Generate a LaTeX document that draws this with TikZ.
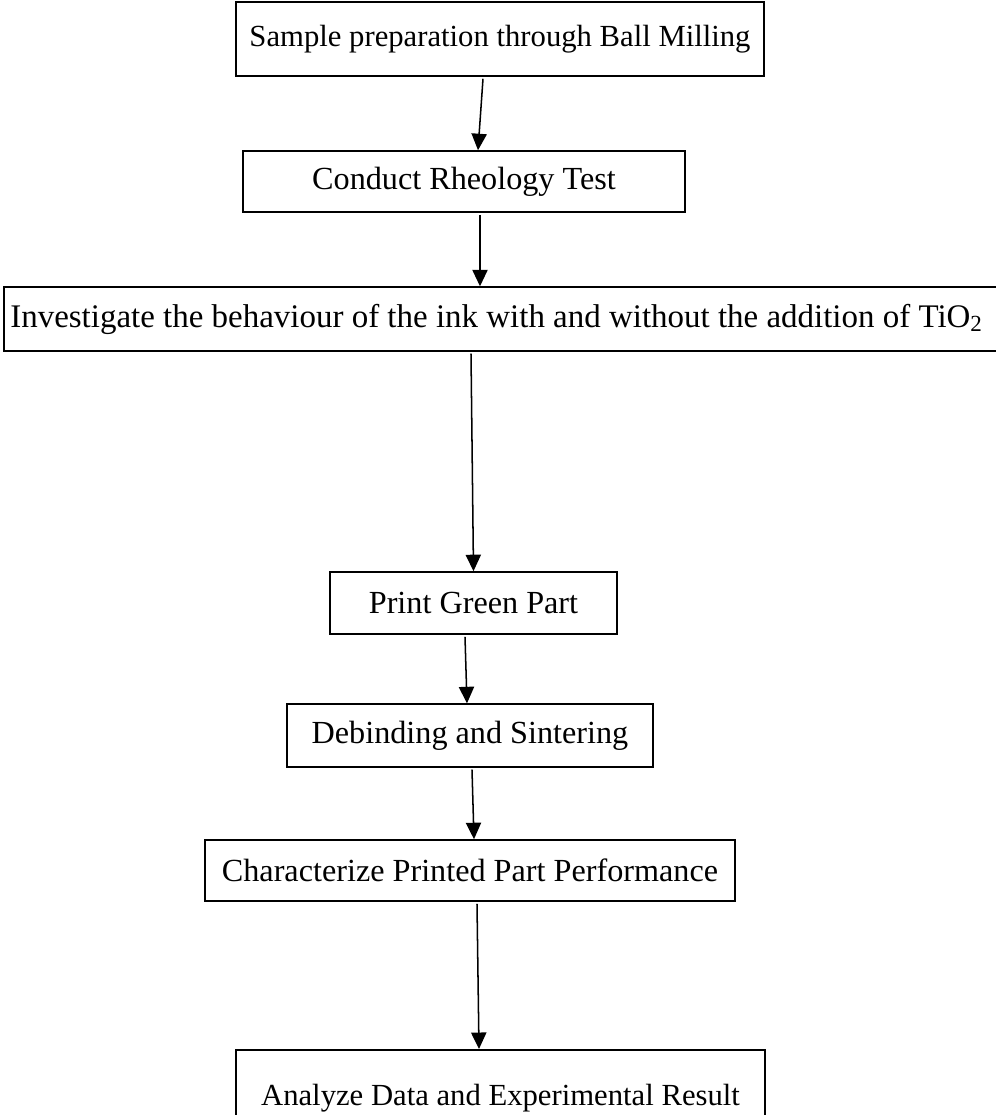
\documentclass[tikz,border=0pt]{standalone}
\usepackage{fontspec}
\setmainfont{Liberation Serif}
\usetikzlibrary{arrows.meta}

\tikzset{
  stagebox/.style={draw, line width=0.6pt, inner sep=0pt,
    font=\fontsize{12.7}{15}\selectfont},
  flowline/.style={line width=0.6pt, -{Triangle[length=6.5pt,width=6pt]}}
}

\begin{document}
\begin{tikzpicture}[x=0.3944pt,y=-0.3944pt]
  \useasboundingbox (0,0) rectangle (995,1115);
  % process steps
  \node[stagebox, minimum width=208.2pt, minimum height=29.2pt,
    font=\fontsize{12.1}{14.5}\selectfont] (mill) at (500,39)
    {Sample preparation through Ball Milling};
  \node[stagebox, minimum width=174.3pt, minimum height=24.1pt] (rheo) at (464,181.5)
    {Conduct Rheology Test};
  \node[stagebox, anchor=west, minimum height=25.2pt, text width=410pt, align=flush left,
    inner xsep=2.6pt, font=\fontsize{13}{15.5}\selectfont] (ink) at (3,319)
    {Investigate the behaviour of the ink with and without the addition of TiO\textsubscript{2}};
  \node[stagebox, minimum width=113.2pt, minimum height=24.5pt] (green) at (473.5,603)
    {Print Green Part};
  \node[stagebox, minimum width=144.3pt, minimum height=24.8pt] (sinter) at (470,735.5)
    {Debinding and Sintering};
  \node[stagebox, minimum width=209pt, minimum height=24.1pt] (perf) at (470,870.5)
    {Characterize Printed Part Performance};
  \node[stagebox, anchor=north, minimum width=208.6pt, minimum height=38pt,
    font=\fontsize{12.1}{14.5}\selectfont] (result) at (500.5,1049)
    {Analyze Data and Experimental Result};

  % arrows
  \draw[flowline] ([shift={(-17,2)}]mill.south) -- ([shift={(14,0)}]rheo.north);
  \draw[flowline] ([shift={(16,2)}]rheo.south) -- ([shift={(477,0)}]ink.north west);
  \draw[flowline] ([shift={(468,2)}]ink.south west) -- (green.north);
  \draw[flowline] ([shift={(-8.5,2)}]green.south) -- ([shift={(-3,0)}]sinter.north);
  \draw[flowline] ([shift={(2,2)}]sinter.south) -- ([shift={(4,0)}]perf.north);
  \draw[flowline] ([shift={(7,2)}]perf.south) -- ([shift={(-21.5,0)}]result.north);
\end{tikzpicture}
\end{document}
